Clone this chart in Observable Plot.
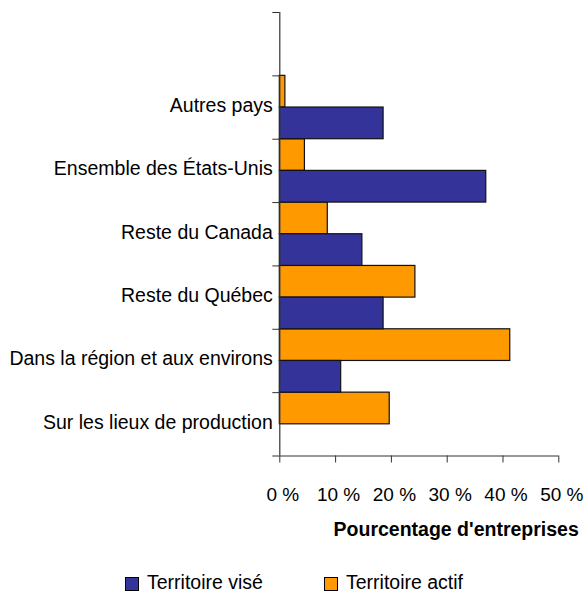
<!DOCTYPE html>
<html>
<head>
<meta charset="utf-8">
<script src="https://cdn.jsdelivr.net/npm/d3@7"></script>
<script src="https://cdn.jsdelivr.net/npm/@observablehq/plot@0.6"></script>
<style>
  html, body { margin: 0; padding: 0; background: #fff; }
  #wrap { position: relative; width: 587px; height: 592px; overflow: hidden; font-family: "Liberation Sans", Arial, sans-serif; }
  #legend .item { position: absolute; top: 573px; font-size: 19.5px; line-height: 19.5px; color: #000; white-space: nowrap; }
  #legend .sw { position: absolute; top: 4px; left: 0; width: 12px; height: 12px; border: 1px solid #000; }
  #legend .lbl { position: absolute; left: 22px; top: 0; }
</style>
</head>
<body>
<div id="wrap"><div id="chart"></div><div id="legend"></div></div>
<script>
// Categories listed bottom to top
const categories = ["Sur les lieux de production", "Dans la région et aux environs", "Reste du Québec", "Reste du Canada", "Ensemble des États-Unis", "Autres pays"];
const territoireVise = [0, 11.0, 18.6, 14.8, 37.0, 18.6];
const territoireActif = [19.7, 41.3, 24.3, 8.6, 4.5, 1.0];
const series = ["Territoire visé", "Territoire actif"];
const colors = ["#333399", "#FF9900"];
const xTicks = [0, 10, 20, 30, 40, 50];
const xLabel = "Pourcentage d'entreprises";

const bars = [];
categories.forEach((c, i) => {
  bars.push({cat: c, series: series[1], value: territoireActif[i], y1: i + 0.5, y2: i + 1});
  if (territoireVise[i] > 0) bars.push({cat: c, series: series[0], value: territoireVise[i], y1: i, y2: i + 0.5});
});
const nSlots = categories.length + 1;

const chart = Plot.plot({
  width: 587,
  height: 548,
  marginLeft: 279.3,
  marginRight: 28.7,
  marginTop: 12,
  marginBottom: 92.5,
  style: {fontFamily: "'Liberation Sans', Arial, sans-serif", fontSize: "19.5px", color: "#000", background: "#fff"},
  x: {domain: [0, 50], label: null},
  y: {domain: [0, nSlots], label: null},
  color: {domain: series, range: colors},
  marks: [
    Plot.rectX(bars, {x: "value", y1: "y1", y2: "y2", fill: "series", stroke: "#111", strokeWidth: 1.2}),
    Plot.ruleX([0], {stroke: "#333", strokeWidth: 1.2}),
    Plot.ruleY([0], {stroke: "#333", strokeWidth: 1.2}),
    Plot.axisY(d3.range(0, nSlots + 1), {tickSize: 7, tickFormat: () => "", stroke: "#333", label: null}),
    Plot.axisY(categories.map((c, i) => i + 0.5), {tickSize: 0, tickPadding: 7, dy: -2, tickFormat: d => categories[Math.floor(d)], label: null, fill: "#000"}),
    Plot.axisX(xTicks, {tickSize: 7, tickFormat: () => "", stroke: "#333", label: null}),
    Plot.axisX(xTicks, {tickSize: 0, tickPadding: 31, dx: 3, tickFormat: d => d + " %", fontSize: 19, label: null, fill: "#000"}),
    Plot.text([xLabel], {text: d => d, frameAnchor: "bottom-right", dx: 20, dy: 80, textAnchor: "end", fontWeight: "bold", fontSize: 19.5, fill: "#000"})
  ]
});
document.getElementById("chart").appendChild(chart);

const legendLefts = [125, 324];
const legend = document.getElementById("legend");
series.forEach((s, i) => {
  const item = document.createElement("div");
  item.className = "item";
  item.style.left = legendLefts[i] + "px";
  item.innerHTML = `<span class="sw" style="background:${colors[i]}"></span><span class="lbl">${s}</span>`;
  legend.appendChild(item);
});
</script>
</body>
</html>
